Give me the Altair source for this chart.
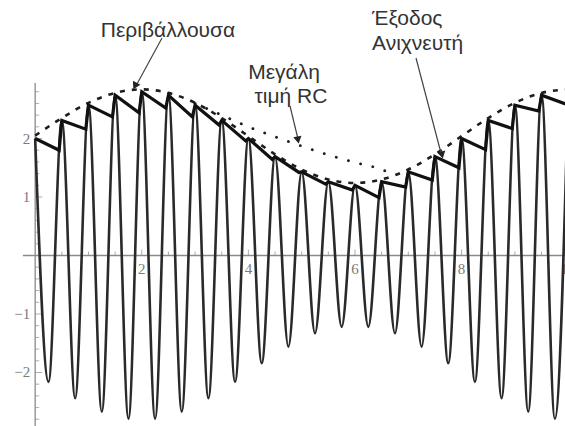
import altair as alt
import pandas as pd

# ---------------- data ----------------
# AM signal: extreme values (peaks / troughs) every quarter unit
carrier_t = [0.0, 0.25, 0.5, 0.75, 1.0, 1.25, 1.5, 1.75, 2.0, 2.25, 2.5, 2.75,
             3.0, 3.25, 3.5, 3.75, 4.0, 4.25, 4.5, 4.75, 5.0, 5.25, 5.5, 5.75,
             6.0, 6.25, 6.5, 6.75, 7.0, 7.25, 7.5, 7.75, 8.0, 8.25, 8.5, 8.75,
             9.0, 9.25, 9.5, 9.75, 10.0]
carrier_v = [2.0, -2.16, 2.31, -2.44, 2.57, -2.67, 2.74, -2.79, 2.8, -2.79, 2.74, -2.67,
             2.57, -2.44, 2.31, -2.16, 2.0, -1.84, 1.69, -1.56, 1.43, -1.33, 1.26, -1.22,
             1.2, -1.22, 1.26, -1.33, 1.43, -1.56, 1.69, -1.84, 2.0, -2.16, 2.31, -2.44,
             2.57, -2.67, 2.74, -2.79, 2.8]

# Envelope (dashed)
env_t = [0.0, 0.5, 1.0, 1.5, 2.0, 2.5, 3.0, 3.5, 4.0, 4.5, 5.0, 5.5, 6.0, 6.5,
         7.0, 7.5, 8.0, 8.5, 9.0, 9.5, 10.0]
env_v = [2.05, 2.35, 2.61, 2.78, 2.84, 2.78, 2.61, 2.35, 2.04, 1.73, 1.47, 1.30, 1.24,
         1.30, 1.47, 1.73, 2.04, 2.35, 2.61, 2.78, 2.84]

# Detector output (thick sawtooth)
det_t = [0.0, 0.45, 0.5, 0.95, 1.0, 1.45, 1.5, 1.95, 2.0, 2.45, 2.5, 2.95, 3.0, 3.45,
         3.5, 3.95, 4.0, 4.45, 4.5, 4.95, 5.0, 5.45, 5.5, 5.95, 6.0, 6.45, 6.5, 6.95,
         7.0, 7.45, 7.5, 7.95, 8.0, 8.45, 8.5, 8.95, 9.0, 9.45, 9.5, 9.95]
det_v = [2.0, 1.80, 2.31, 2.16, 2.57, 2.37, 2.74, 2.44, 2.8, 2.52, 2.74, 2.37, 2.57, 2.23,
         2.31, 1.96, 2.0, 1.64, 1.69, 1.42, 1.43, 1.22, 1.26, 1.12, 1.2, 0.99, 1.26, 1.17,
         1.43, 1.29, 1.69, 1.50, 2.0, 1.81, 2.31, 2.17, 2.57, 2.47, 2.74, 2.59]

# Large RC output (dotted)
rc_t = [3.0, 3.5, 4.0, 4.5, 5.0, 5.5, 6.0, 6.5, 6.75]
rc_v = [2.6, 2.4, 2.2, 2.03, 1.87, 1.72, 1.59, 1.47, 1.37]

# Axis ticks and labels
x_minor = [0.5, 1.0, 1.5, 2.5, 3.0, 3.5, 4.5, 5.0, 5.5, 6.5, 7.0, 7.5, 8.5, 9.0, 9.5]
x_major = [2, 4, 6, 8, 10]
x_labels = ["2", "4", "6", "8", "10"]
y_minor = [-2.8, -2.6, -2.4, -2.2, -1.8, -1.6, -1.4, -1.2, -0.8, -0.6, -0.4, -0.2,
           0.2, 0.4, 0.6, 0.8, 1.2, 1.4, 1.6, 1.8, 2.2, 2.4, 2.6, 2.8]
y_major = [-2, -1, 1, 2]
y_labels = ["\u22122", "\u22121", "1", "2"]

# ---------------- chart ----------------
W, H = 565, 426
XMIN, XMAX = -0.66, 9.94
YMIN, YMAX = -2.915, 4.368
xs = alt.Scale(domain=[XMIN, XMAX], nice=False, zero=False)
ys = alt.Scale(domain=[YMIN, YMAX], nice=False, zero=False)

def px(t):
    return (t - XMIN) / (XMAX - XMIN) * W

def py(v):
    return (YMAX - v) / (YMAX - YMIN) * H

X0 = px(0)
Y0 = py(0)

def X(f):
    return alt.X(f, type="quantitative", scale=xs, axis=None)

def Y(f):
    return alt.Y(f, type="quantitative", scale=ys, axis=None)

carrier = pd.DataFrame({"t": carrier_t, "v": carrier_v})
env = pd.DataFrame({"t": env_t, "v": env_v})
det = pd.DataFrame({"t": det_t, "v": det_v})
rc = pd.DataFrame({"t": rc_t, "v": rc_v})
one = pd.DataFrame({"a": [0]})

axis_col = "#8a8a8a"

x_axis = alt.Chart(one).mark_rule(color=axis_col, strokeWidth=1.3).encode(
    x=alt.value(px(-0.23)), x2=alt.value(W), y=alt.value(Y0))
y_axis = alt.Chart(one).mark_rule(color=axis_col, strokeWidth=1.3).encode(
    x=alt.value(X0), y=alt.value(py(2.95)), y2=alt.value(H))

xt_min = alt.Chart(pd.DataFrame({"t": x_minor})).mark_tick(
    orient="vertical", size=4, thickness=1, color=axis_col).encode(
    x=X("t"), y=alt.value(Y0 - 2))
xt_maj = alt.Chart(pd.DataFrame({"t": x_major})).mark_tick(
    orient="vertical", size=6, thickness=1, color=axis_col).encode(
    x=X("t"), y=alt.value(Y0 - 3))
yt_min = alt.Chart(pd.DataFrame({"v": y_minor})).mark_tick(
    orient="horizontal", size=4, thickness=1, color=axis_col).encode(
    y=Y("v"), x=alt.value(X0 + 2))
yt_maj = alt.Chart(pd.DataFrame({"v": y_major})).mark_tick(
    orient="horizontal", size=7, thickness=1, color=axis_col).encode(
    y=Y("v"), x=alt.value(X0 + 3.5))

xl = alt.Chart(pd.DataFrame({"t": x_major, "lab": x_labels})).mark_text(
    font="Liberation Serif", fontSize=15, color="#7a7a7a", baseline="middle").encode(
    x=X("t"), y=alt.value(Y0 + 14), text="lab:N")
yl = alt.Chart(pd.DataFrame({"v": y_major, "lab": y_labels})).mark_text(
    font="Liberation Serif", fontSize=15, color="#7a7a7a", align="right",
    baseline="middle").encode(
    y=Y("v"), x=alt.value(X0 - 5), text="lab:N")

car_line = alt.Chart(carrier).mark_line(
    interpolate="monotone", color="#2a2a2a", strokeWidth=2.6, clip=True).encode(
    x=X("t"), y=Y("v"), order="t:Q")
env_line = alt.Chart(env).mark_line(
    interpolate="monotone", color="#1e1e1e", strokeWidth=2.6, strokeDash=[5, 7],
    clip=True).encode(x=X("t"), y=Y("v"), order="t:Q")
rc_line = alt.Chart(rc).mark_line(
    interpolate="monotone", color="#1e1e1e", strokeWidth=2.8, strokeDash=[0.1, 12.5],
    strokeCap="round", clip=True).encode(x=X("t"), y=Y("v"), order="t:Q")
det_line = alt.Chart(det).mark_line(
    color="#111111", strokeWidth=3.2, strokeJoin="miter", clip=True).encode(
    x=X("t"), y=Y("v"), order="t:Q")

txt_col = "#333333"

def label(s, x, y, align="center", size=21):
    return alt.Chart(pd.DataFrame({"s": [s]})).mark_text(
        font="Liberation Sans", fontSize=size, color=txt_col, align=align,
        baseline="middle").encode(text="s:N", x=alt.value(x), y=alt.value(y))

def arrow_line(x1, y1, x2, y2):
    return alt.Chart(one).mark_rule(color="#444444", strokeWidth=1.2).encode(
        x=alt.value(x1), y=alt.value(y1), x2=alt.value(x2), y2=alt.value(y2))

def arrow_head(tx, ty, ang):
    return alt.Chart(one).mark_point(
        shape="triangle-up", filled=True, color="#222222", size=70, opacity=1,
        angle=ang).encode(x=alt.value(tx), y=alt.value(ty))

layers = [
    x_axis, y_axis, xt_min, xt_maj, yt_min, yt_maj, xl, yl,
    car_line, env_line, rc_line, det_line,
    arrow_line(162, 38, 137, 84), arrow_head(135, 86, 207),
    arrow_line(290, 106, 298, 139), arrow_head(298, 140, 169),
    arrow_line(416, 58, 441, 153), arrow_head(442, 155, 167),
    label("Περιβάλλουσα", 168, 31),
    label("Μεγάλη", 284, 73),
    label("τιμή RC", 291, 97),
    label("Έξοδος", 372, 19, align="left"),
    label("Ανιχνευτή", 372, 44, align="left"),
]

chart = alt.layer(*layers).properties(
    width=W, height=H, padding=0, autosize=alt.AutoSizeParams(type="none"),
    background="white"
).configure_view(stroke=None)

chart.save("out.html", embed_options={"renderer": "svg", "actions": False})
